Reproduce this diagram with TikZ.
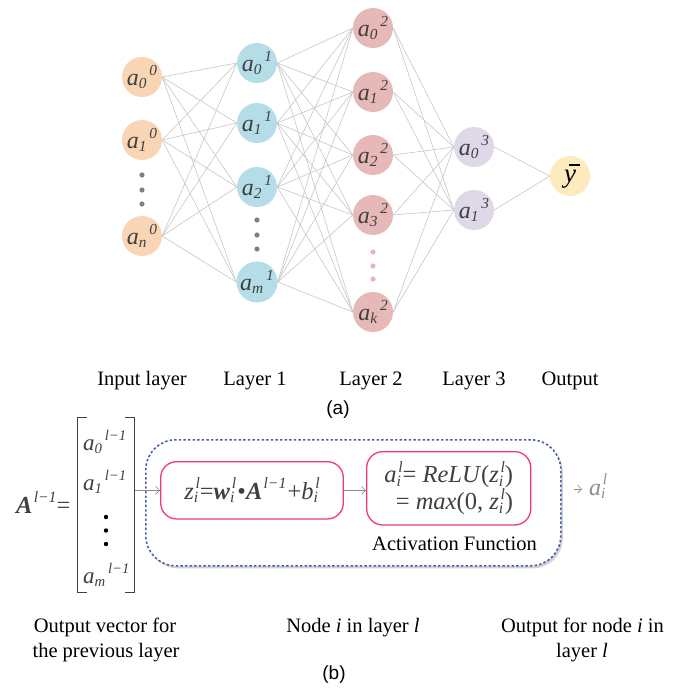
\documentclass[tikz,border=0pt]{standalone}
\usepackage{fontspec}
\setmainfont{Liberation Serif}
\newfontfamily\figsans{Liberation Sans}
\usetikzlibrary{arrows.meta,shadows,calc}

\definecolor{inputfill}{HTML}{F9D4B5}
\definecolor{hidAfill}{HTML}{B4DDE8}
\definecolor{hidBfill}{HTML}{E6B9B8}
\definecolor{hidCfill}{HTML}{DED8E8}
\definecolor{outfill}{HTML}{FEEBBD}
\definecolor{wire}{HTML}{C6C6C6}
\definecolor{ink}{HTML}{404040}
\definecolor{pinkline}{HTML}{EE3A7A}
\definecolor{dotblue}{HTML}{4A5DB2}
\definecolor{arrowgrey}{HTML}{8C8C8C}
\definecolor{dotgrey}{HTML}{808080}
\definecolor{dotpink}{HTML}{E8B6B6}

\makeatletter
% script-size text relative to the surrounding font
\newcommand\scr[1]{{\fontsize{\strip@pt\dimexpr0.64\dimexpr\f@size pt\relax\relax}{0}\selectfont #1}}
\makeatother
% index written after the letter, power further right
\newcommand\ssq[2]{\lower0.14em\hbox{\scr{#1}}\kern0.12em\raise0.42em\hbox{\scr{#2}}}
% index stacked under power
\newcommand\sbsp[2]{\rlap{\lower0.14em\hbox{\scr{#1}}}\kern0.07em\raise0.42em\hbox{\scr{#2}}}
% power only
\newcommand\pw[1]{\kern0.05em\raise0.42em\hbox{\scr{#1}}}
% mean value: y with a bar above it
\newcommand\ybar{\rlap{\kern0.17em\raise0.6em\hbox{\rule{0.42em}{0.075em}}}\textit{y}}

\begin{document}
\begin{tikzpicture}[x=1pt,y=-1pt,
  neuron/.style={circle,minimum size=40pt,inner sep=0pt,text=ink,
    font=\fontsize{24}{24}\selectfont\itshape},
  wire/.style={draw=wire,line width=0.6pt},
  laytext/.style={inner sep=0pt,anchor=base,font=\fontsize{20.5}{24}\selectfont},
  formula/.style={inner sep=0pt,text=ink,font=\fontsize{24.5}{27}\selectfont},
  pinkbox/.style={draw=pinkline,line width=1.3pt,rounded corners=16pt,inner sep=0pt},
  arr/.style={draw=arrowgrey,line width=0.7pt,-{Straight Barb[length=4pt,width=8pt]}},
  tag/.style={inner sep=0pt,anchor=base,font=\figsans\fontsize{19}{22}\selectfont}
]
\useasboundingbox (0,0) rectangle (684,691);

% ---------------- network ----------------
\node[neuron,fill=inputfill] (i0) at (142,77)  {a\ssq{0}{0}};
\node[neuron,fill=inputfill] (i1) at (142,140) {a\ssq{1}{0}};
\node[neuron,fill=inputfill] (iN) at (142,236) {a\ssq{n}{0}};

\node[neuron,fill=hidAfill] (h10) at (257,63)  {a\ssq{0}{1}};
\node[neuron,fill=hidAfill] (h11) at (257,123) {a\ssq{1}{1}};
\node[neuron,fill=hidAfill] (h12) at (257,187) {a\ssq{2}{1}};
\node[neuron,fill=hidAfill] (h1M) at (257,282) {a\ssq{m}{1}};

\node[neuron,fill=hidBfill] (h20) at (373,28)  {a\ssq{0}{2}};
\node[neuron,fill=hidBfill] (h21) at (373,92)  {a\ssq{1}{2}};
\node[neuron,fill=hidBfill] (h22) at (373,155) {a\ssq{2}{2}};
\node[neuron,fill=hidBfill] (h23) at (373,215) {a\ssq{3}{2}};
\node[neuron,fill=hidBfill] (h2K) at (373,312) {a\ssq{k}{2}};

\node[neuron,fill=hidCfill] (h30) at (474,147) {a\ssq{0}{3}};
\node[neuron,fill=hidCfill] (h31) at (474,210) {a\ssq{1}{3}};

\node[neuron,fill=outfill,text=black,font=\fontsize{27}{27}\selectfont] (yout) at (570,176) {\ybar};

% vertical ellipses
\foreach \y in {175,190,204} \fill[dotgrey] (142,\y) circle (2.6pt);
\foreach \y in {220,235,249} \fill[dotgrey] (257,\y) circle (2.6pt);
\foreach \y in {252,266,279} \fill[dotpink] (373,\y) circle (2.6pt);

% weights
\foreach \s in {i0,i1,iN}
  \foreach \t in {h10,h11,h12,h1M}
    \draw[wire] (\s.east) -- (\t.west);
\foreach \s in {h10,h11,h12,h1M}
  \foreach \t in {h20,h21,h22,h23,h2K}
    \draw[wire] (\s.east) -- (\t.west);
\foreach \s in {h20,h21,h22,h23,h2K}
  \foreach \t in {h30,h31}
    \draw[wire] (\s.east) -- (\t.west);
\foreach \s in {h30,h31}
  \draw[wire] (\s.east) -- (yout.west);

% layer names
\node[laytext] (lab0) at (142,385) {Input layer};
\node[laytext] (lab1) at (255,385) {Layer 1};
\node[laytext] (lab2) at (371,385) {Layer 2};
\node[laytext] (lab3) at (474,385) {Layer 3};
\node[laytext] (lab4) at (570,385) {Output};
\node[tag] (taga) at (338,414) {(a)};

% ---------------- single node computation ----------------
\node[formula,anchor=base west] (Aeq) at (16,513)
  {\textbf{\textit{A}}\pw{\itshape l−1}=};

\node[minimum width=57pt,minimum height=174pt,inner sep=0pt] (vec) at (105.8,505) {};
\draw[ink,line width=1pt] ([xshift=10pt]vec.north west) -- (vec.north west)
  -- (vec.south west) -- ([xshift=10pt]vec.south west);
\draw[ink,line width=1pt] ([xshift=-10pt]vec.north east) -- (vec.north east)
  -- (vec.south east) -- ([xshift=-10pt]vec.south east);
\node[formula,anchor=base west,font=\fontsize{23}{27}\selectfont\itshape] (e0) at (83,450) {a\ssq{0}{l−1}};
\node[formula,anchor=base west,font=\fontsize{23}{27}\selectfont\itshape] (e1) at (83,490) {a\ssq{1}{l−1}};
\node[formula,anchor=base west,font=\fontsize{23}{27}\selectfont\itshape] (eM) at (83,583) {a\ssq{m}{l−1}};
\foreach \y in {517,530.5,544} \fill[black] (106,\y) circle (2.2pt);

% neuron outline
\node[draw=dotblue,line width=1.6pt,dash pattern=on 2.4pt off 2.2pt,
      rounded corners=30pt,fill=white,minimum width=415pt,minimum height=126pt,
      drop shadow={shadow xshift=2pt,shadow yshift=-2.5pt,opacity=0.18,fill=black}]
      (cell) at (353.3,502.8) {};

\node[pinkbox,formula,minimum width=182.6pt,minimum height=57.3pt] (zbox) at (252,490.3)
  {\textit{z}\sbsp{\itshape i}{\itshape l}=\textbf{\textit{w}}\sbsp{\itshape i}{\itshape l}\kern0.05em•\textbf{\textit{A}}\pw{\itshape l−1}\kern0.05em+\textit{b}\sbsp{\itshape i}{\itshape l}};

\node[pinkbox,formula,align=right,minimum width=164pt,minimum height=73.3pt] (act) at (448.7,488.3)
  {\textit{a}\sbsp{\itshape i}{\itshape l}= \textit{ReLU}(\textit{z}\sbsp{\itshape i}{\itshape l})\\
   = \textit{max}(0, \textit{z}\sbsp{\itshape i}{\itshape l})};

\node[laytext] (actlab) at (454.5,550) {Activation Function};

\draw[arr] (vec.east |- zbox.west) -- (zbox.west);
\draw[arr] (zbox.east) -- (zbox.east -| act.west);

\node[formula,anchor=base west,text=arrowgrey,font=\fontsize{24}{26}\selectfont\itshape] (aout) at (589,495)
  {a\sbsp{i}{l}};
\coordinate (tipS) at (574,489);
\draw[arr] (tipS) -- ([xshift=-7pt]tipS -| aout.west);

% captions
\node[laytext] (capA1) at (105,632) {Output vector for};
\node[laytext] (capA2) at (106,657) {the previous layer};
\node[laytext] (capB)  at (353,632) {Node \textit{i} in layer \textit{l}};
\node[laytext] (capC1) at (582.5,632) {Output for node \textit{i} in};
\node[laytext] (capC2) at (582,657) {layer \textit{l}};
\node[tag] (tagb) at (334,679) {(b)};
\end{tikzpicture}
\end{document}
